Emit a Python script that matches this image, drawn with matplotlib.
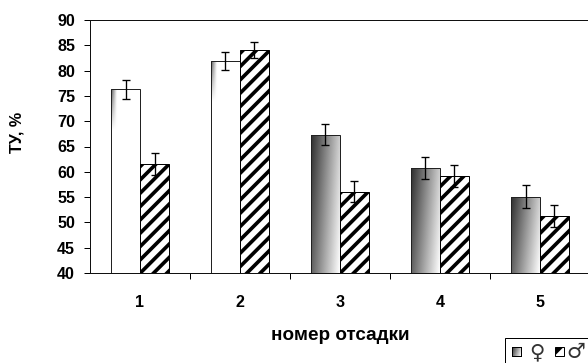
import numpy as np
import matplotlib.pyplot as plt
from matplotlib.patches import Rectangle

# номер отсадки -> ТУ, % (female / male) with error bars
groups = ['1', '2', '3', '4', '5']
female = [76.3, 81.9, 67.3, 60.7, 55.1]
female_err = [1.9, 1.7, 2.1, 2.2, 2.2]
male = [61.5, 84.0, 56.1, 59.1, 51.3]
male_err = [2.2, 1.6, 2.0, 2.2, 2.2]

plt.rcParams['font.family'] = ['Liberation Sans', 'DejaVu Sans']
plt.rcParams['hatch.linewidth'] = 3.3

W, H = 588, 363
fig = plt.figure(figsize=(W / 80, H / 80), dpi=80)
ax = fig.add_axes([90 / W, 1 - 273 / H, 500 / W, 253 / H])

x = np.arange(1, len(groups) + 1)
w = 0.29
ymin, ymax = 40, 90


def gradient(i, val):
    """grey shading of the female bars"""
    gx = np.linspace(0, 1, 60)[None, :]
    gy = np.linspace(1, 0, 120)[:, None]
    if i < 2:
        # only a faint dark corner at the top left
        depth = np.clip((gy * (val - ymin) - (val - ymin) + 8) / 8, 0, 1)
        g = 1 - 0.65 * np.clip(1 - gx / 0.2, 0, 1) * depth
    else:
        g = 0.18 + 0.62 * gx + 0.2 * (1 - gy)
    return np.clip(g, 0, 1)


fbars = ax.bar(x - w / 2, female, w, facecolor='none', edgecolor='#222222',
               linewidth=0.9, zorder=2)
for i, (b, v) in enumerate(zip(fbars, female)):
    im = ax.imshow(gradient(i, v), cmap='gray', vmin=0, vmax=1, aspect='auto',
                   interpolation='bilinear',
                   extent=[b.get_x(), b.get_x() + w, ymin, v], zorder=1)
    im.set_clip_path(b)

ax.bar(x + w / 2, male, w, facecolor='white', edgecolor='black', hatch='//',
       linewidth=0.9, zorder=2)

ax.errorbar(x - w / 2, female, yerr=female_err, fmt='none', ecolor='black',
            elinewidth=1.2, capsize=3.6, capthick=1.2, zorder=3)
ax.errorbar(x + w / 2, male, yerr=male_err, fmt='none', ecolor='black',
            elinewidth=1.2, capsize=3.6, capthick=1.2, zorder=3)

ax.set_xlim(0.5, 5.5)
ax.set_ylim(ymin, ymax)
ax.set_yticks(np.arange(40, 91, 5))
ax.set_xticks(x)
ax.set_xticklabels(groups, fontsize=14.5, fontweight='bold')
ax.set_xticks(x[:-1] + 0.5, minor=True)
ax.tick_params(axis='x', which='major', length=0, pad=20)
ax.tick_params(axis='x', which='minor', length=5.4, width=0.9, direction='out')
ax.tick_params(axis='y', length=5.4, width=0.9, direction='out', pad=8,
               labelsize=14.5)
for lab in ax.get_yticklabels():
    lab.set_fontweight('bold')

for s in ['left', 'bottom', 'top']:
    ax.spines[s].set_linewidth(0.9)
    ax.spines[s].set_color('#111111')
ax.spines['right'].set_visible(False)

fig.text(17.5 / W, 1 - 132 / H, 'ТУ, %', rotation=90, ha='center',
         va='center', fontsize=14.5, fontweight='bold')
fig.text(340.5 / W, 1 - 336 / H, 'номер отсадки', ha='center', va='center',
         fontsize=17, fontweight='bold')

# legend box in the bottom right corner
fig.patches.append(Rectangle((505 / W, -0.05), 0.2, 0.05 + 1 - 338 / H,
                             transform=fig.transFigure, facecolor='white',
                             edgecolor='black', linewidth=0.9, zorder=-1))
lax = fig.add_axes([512 / W, 1 - 356 / H, 9 / W, 9 / H], zorder=5)
lax.imshow(gradient(2, ymax), cmap='gray', vmin=0, vmax=1, aspect='auto',
           interpolation='bilinear')
lax.set_xticks([])
lax.set_yticks([])
for s in lax.spines.values():
    s.set_linewidth(0.9)
with plt.rc_context({'hatch.linewidth': 5.0}):
    key = Rectangle((555 / W, 1 - 356 / H), 9 / W, 9 / H,
                    transform=fig.transFigure, facecolor='white',
                    edgecolor='black', hatch='/', linewidth=0.9)
fig.patches.append(key)
fig.text(536.5 / W, 1 - 352 / H, '♀', ha='center', va='center', fontsize=19,
         family='DejaVu Sans', color='#333333')
fig.text(575.5 / W, 1 - 352 / H, '♂', ha='center', va='center', fontsize=19,
         family='DejaVu Sans', color='#333333')

fig.savefig('out.png', dpi=80)
